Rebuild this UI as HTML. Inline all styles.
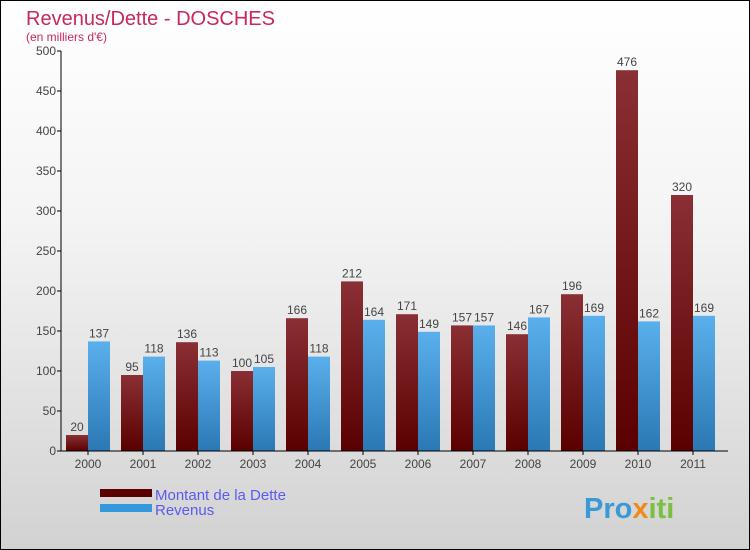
<!DOCTYPE html>
<html><head><meta charset="utf-8"><style>
body{margin:0}
#c{position:relative;width:748px;height:548px;border:1px solid #000;background:linear-gradient(#fff,#f4f4f4 40%,#d2d2d2);overflow:hidden;font-family:"Liberation Sans",sans-serif}
</style></head><body>
<div id="c">
<svg id="s" width="748" height="548" xmlns="http://www.w3.org/2000/svg" style="position:absolute;left:0;top:0">
<defs>
<linearGradient id="gd" x1="0" y1="0" x2="0" y2="1"><stop offset="0" stop-color="#8a3034"/><stop offset="1" stop-color="#5a0000"/></linearGradient>
<linearGradient id="gr" x1="0" y1="0" x2="0" y2="1"><stop offset="0" stop-color="#5ab0ec"/><stop offset="1" stop-color="#2a78b4"/></linearGradient>
</defs>
<text x="25" y="24" font-size="20" fill="#c8285a">Revenus/Dette - DOSCHES</text>
<text x="25" y="40" font-size="12" fill="#c8285a">(en milliers d'€)</text>
<g id="g"></g>
<rect x="99" y="488" width="52" height="8" fill="#5a0000"/>
<rect x="99" y="503" width="52" height="8" fill="#3498dc"/>
<text x="154" y="499" font-size="15" fill="#5a5af0">Montant de la Dette</text>
<text x="154" y="514" font-size="15" fill="#5a5af0">Revenus</text>
<text x="583" y="517" font-size="29" font-weight="bold" fill="#3a9ad8">Pro<tspan fill="#f08a1a">x</tspan><tspan fill="#7ac040">iti</tspan></text>
</svg>
</div>
<script>
const years=["2000","2001","2002","2003","2004","2005","2006","2007","2008","2009","2010","2011"];
const dette=[20,95,136,100,166,212,171,157,146,196,476,320];
const revenus=[137,118,113,105,118,164,149,157,167,169,162,169];
const yTicks=[0,50,100,150,200,250,300,350,400,450,500];
const NS="http://www.w3.org/2000/svg";
const g=document.getElementById('g');
const y=v=>450-v*0.8;
const x=i=>65+55*i;
function mk(t,a){const e=document.createElementNS(NS,t);for(const k in a)e.setAttribute(k,a[k]);g.appendChild(e);return e;}
yTicks.forEach(v=>{
 const l=mk('line',{x1:56,x2:60,y1:y(v),y2:y(v),stroke:'#000'});
 
 
 const t=mk('text',{x:55,y:y(v)+4,'text-anchor':'end','font-size':12,fill:'#444'});t.textContent=v;
 
 
});
years.forEach((yr,i)=>{
 const b1=mk('rect',{x:x(i),y:y(dette[i]),width:22,height:dette[i]*0.8,fill:'url(#gd)'});
 
 
 const b2=mk('rect',{x:x(i)+22,y:y(revenus[i]),width:22,height:revenus[i]*0.8,fill:'url(#gr)'});
 
 
 const t1=mk('text',{x:x(i)+11,y:y(dette[i])-4,'text-anchor':'middle','font-size':12,fill:'#444'});t1.textContent=dette[i];
 
 
 const t2=mk('text',{x:x(i)+33,y:y(revenus[i])-4,'text-anchor':'middle','font-size':12,fill:'#444'});t2.textContent=revenus[i];
 
 
 const tk=mk('line',{x1:x(i)+22,x2:x(i)+22,y1:450,y2:454,stroke:'#000'});
 
 
 const xl=mk('text',{x:x(i)+22,y:467,'text-anchor':'middle','font-size':12,fill:'#444'});xl.textContent=yr;
 
 
});
const ya=mk('line',{x1:60,x2:60,y1:50,y2:450,stroke:'#000'});


const xa=mk('line',{x1:60,x2:727,y1:450,y2:450,stroke:'#000'});


</script>
</body></html>
